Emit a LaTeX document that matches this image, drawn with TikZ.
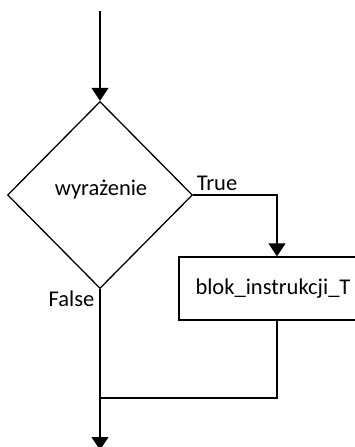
\documentclass[tikz,border=0pt]{standalone}
\usepackage{fontspec}
\setmainfont{Carlito}
\usetikzlibrary{shapes.geometric,arrows.meta}
\newcommand{\etykieta}{\fontsize{22.5}{27}\selectfont}

\begin{document}
\begin{tikzpicture}[x=1pt, y=-1pt, line width=1.3pt, font=\etykieta,
        >={Triangle[width=17pt,length=13pt]}]
    \useasboundingbox (0,0) rectangle (355,447);

    \node[draw, diamond, minimum width=185pt, minimum height=187pt, inner sep=0pt] (war) at (100,195) {};
    \node (warTxt) at (101,190) {wyrażenie};
    \node[draw, minimum width=188pt, minimum height=63pt] (blok) at (273,288.5) {blok\_instrukcji\_T};

    \coordinate (start) at (100,11);
    \coordinate (koniec) at (100,450);
    \coordinate (prawo) at (277,195);
    \coordinate (zbieg) at (100,398);

    \draw[->] (start) -- (war);
    \draw[->] (war.east) -- (prawo) -- (prawo |- blok.north);
    \draw (prawo |- blok.south) |- (zbieg);
    \draw[->] (war.south) -- (koniec);

    \node[above right, inner xsep=3pt, inner ysep=4pt] at (war.east) {True};
    \node[below left, inner xsep=5pt, inner ysep=1pt] at (war.south) {False};
\end{tikzpicture}
\end{document}
